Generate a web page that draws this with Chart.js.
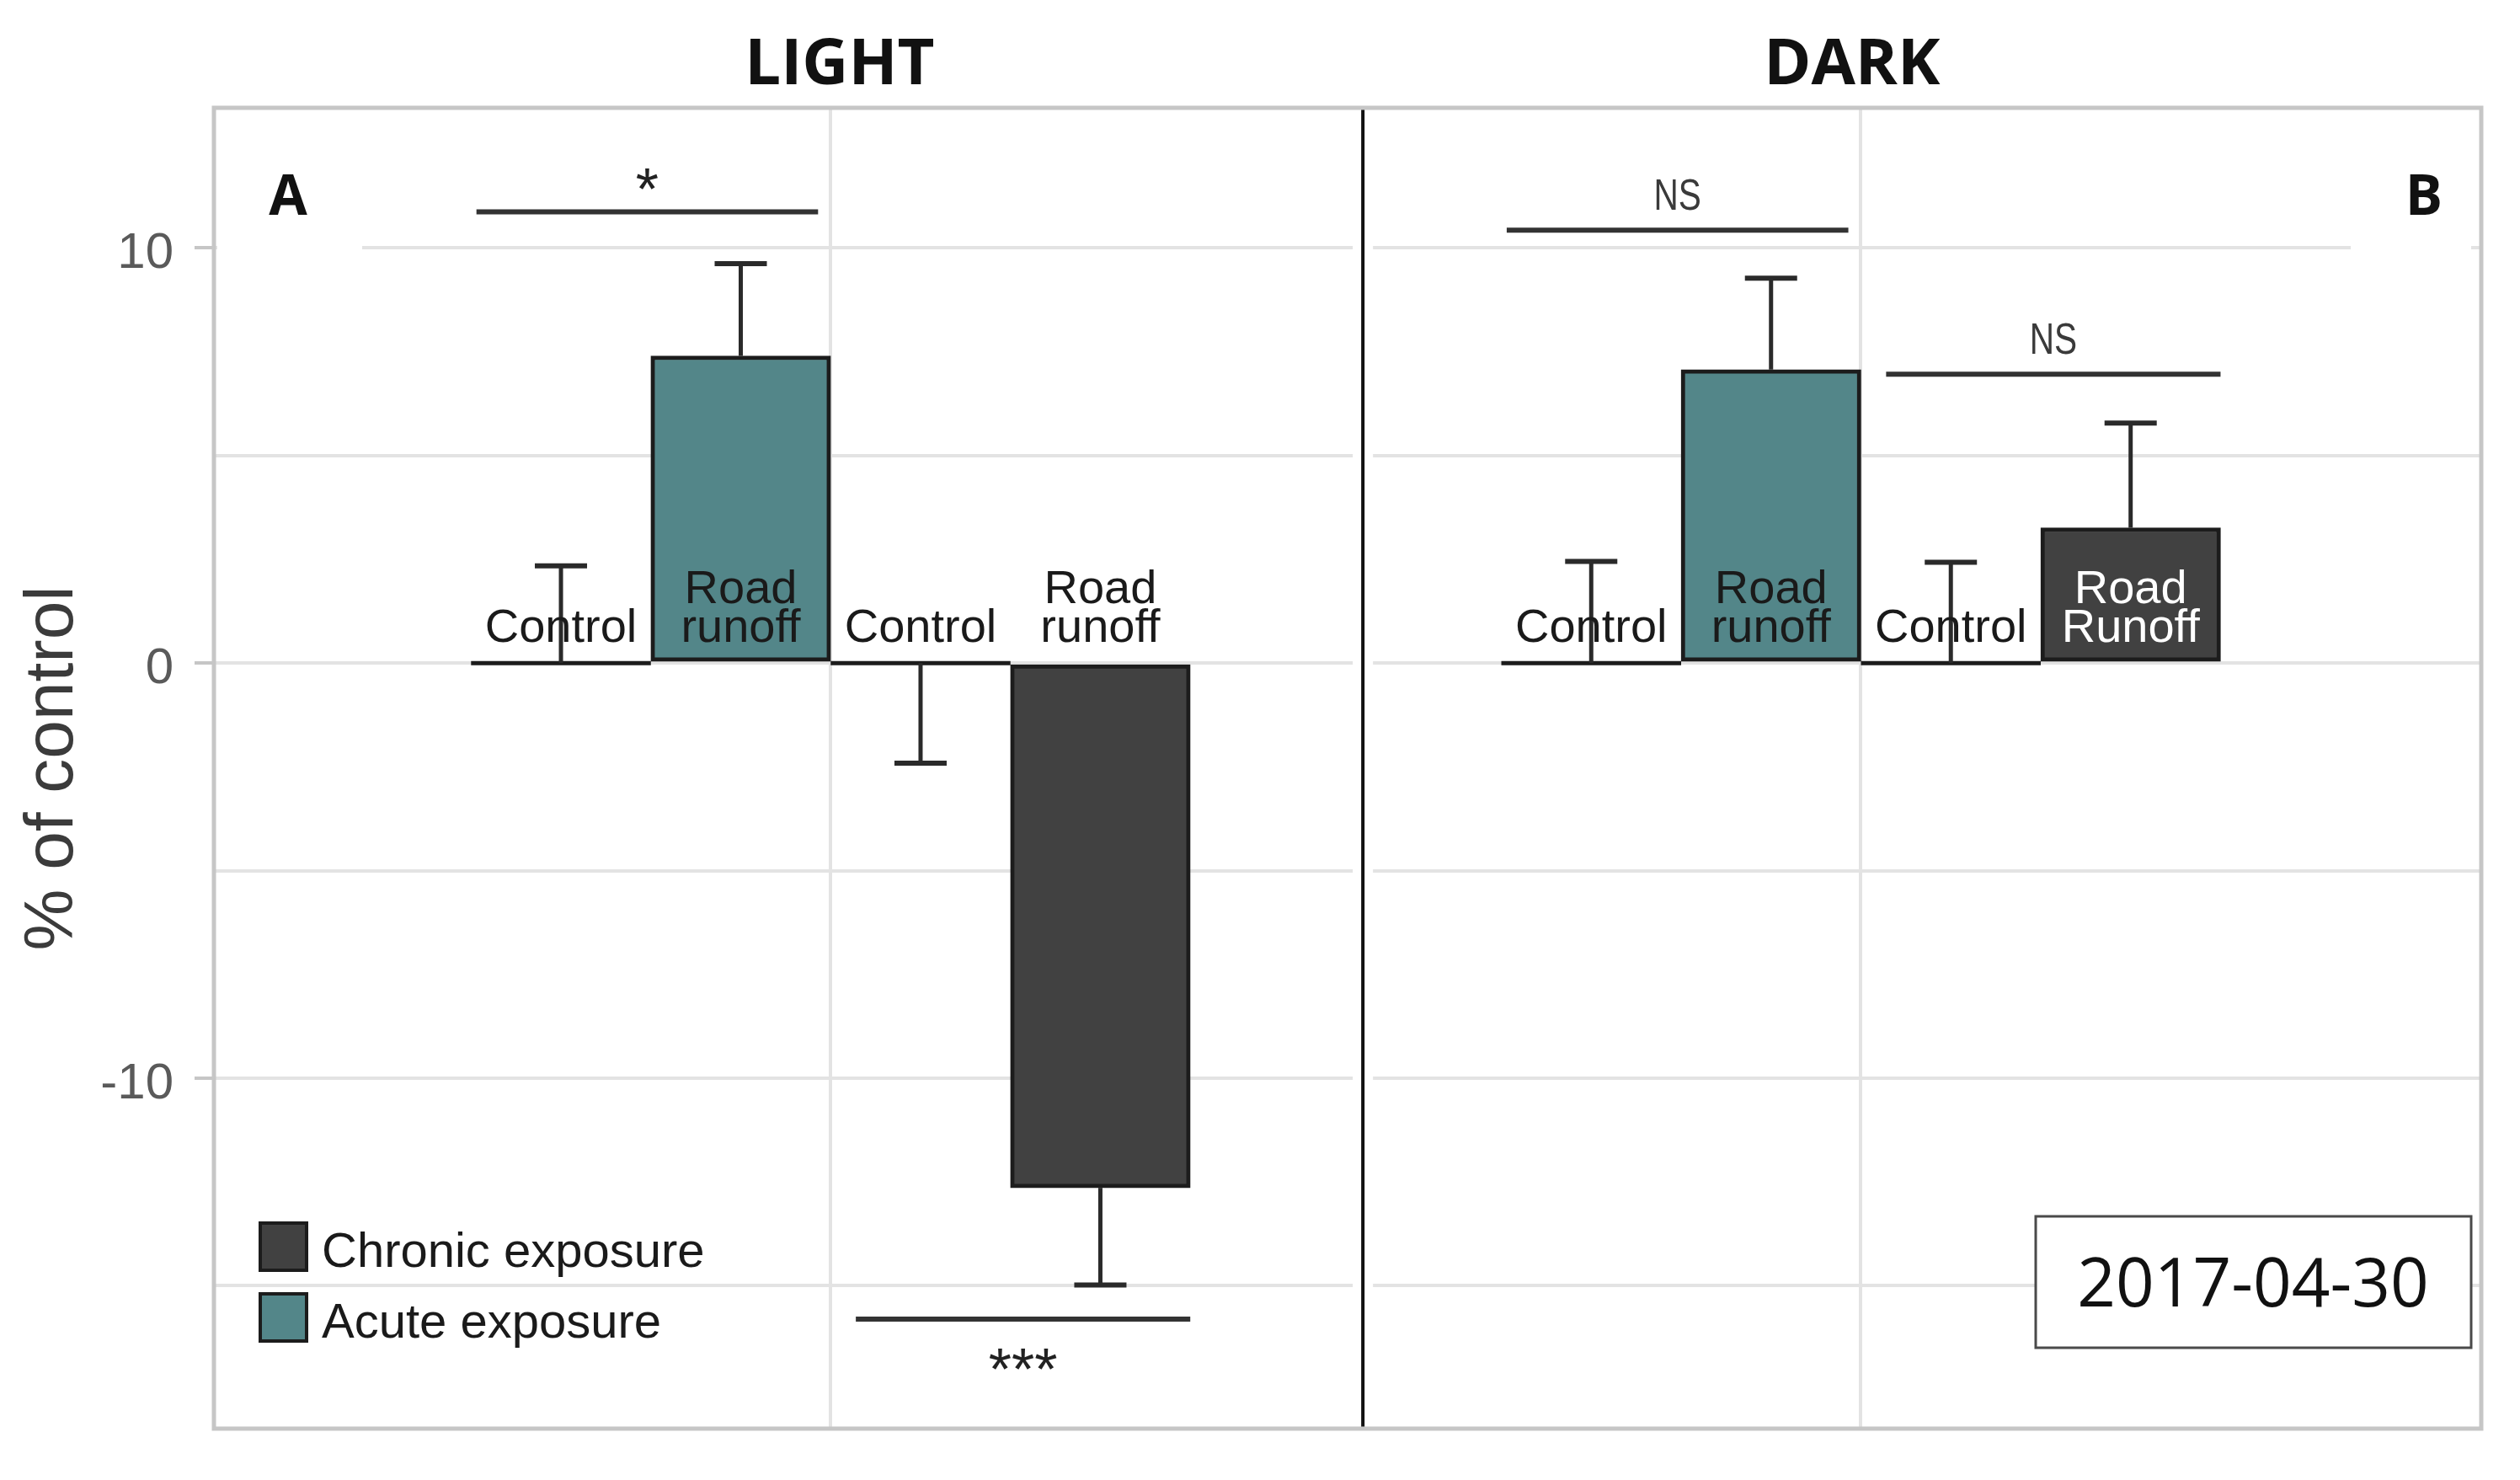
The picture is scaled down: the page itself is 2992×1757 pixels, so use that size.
<!doctype html>
<html lang="en">
<head>
    <title>Road runoff exposure - light / dark</title>
    <meta charset="UTF-8" />
    <style>
        html, body { margin: 0; padding: 0; background: #fff; }
    </style>
</head>
<body>
<canvas id="myChart" width="2992" height="1757"></canvas>
<script src="https://cdn.jsdelivr.net/npm/chart.js"></script>
<script>
    // values, % of control
    const panels = ['LIGHT', 'DARK'];
    const panelTags = ['A', 'B'];
    const seriesNames = ['Chronic exposure', 'Acute exposure'];

    const lightAcute = [0, 7.40];
    const lightAcuteErr = [2.34, 2.22];
    const lightChronic = [0, -12.64];
    const lightChronicErr = [-2.41, -2.34];

    const darkAcute = [0, 7.07];
    const darkAcuteErr = [2.45, 2.20];
    const darkChronic = [0, 3.26];
    const darkChronicErr = [2.43, 2.52];

    const lightLabels = ['Control', 'Road\nrunoff', 'Control', 'Road\nrunoff'];
    const darkLabels = ['Control', 'Road\nrunoff', 'Control', 'Road\nRunoff'];

    const sigMarks = ['*', '***', 'NS', 'NS'];
    const sigLevels = [10.87, -15.8, 10.43, 6.96];

    const yTicks = [-15, -10, -5, 0, 5, 10];
    const dateText = '2017-04-30';

    // layout bits (x unit = one bar slot)
    const PANEL_SHIFT = 5.73;
    const DIVIDER_X = 5.46;
    const TITLE_X = [2.55, 2.45];
    const SIG_SPANS = [[0.53, 2.43], [2.64, 4.5]];
    const TEAL = '#538689', DARK = '#414141', EDGE = '#1c1c1c';
    const GRID = '#e3e3e3', FRAME = '#c6c6c6';

    function slotPoints(vals, panel, firstSlot) {
        return vals.map((v, i) => ({x: 1 + firstSlot + i + panel * PANEL_SHIFT, y: v}));
    }

    const chronicData = slotPoints(lightChronic, 0, 2).concat(slotPoints(darkChronic, 1, 2));
    const acuteData = slotPoints(lightAcute, 0, 0).concat(slotPoints(darkAcute, 1, 0));
    const errs = [lightChronicErr.concat(darkChronicErr), lightAcuteErr.concat(darkAcuteErr)];
    const labels = [
        [lightLabels[2], lightLabels[3], darkLabels[2], darkLabels[3]],
        [lightLabels[0], lightLabels[1], darkLabels[0], darkLabels[1]]
    ];

    function drawText(ctx, str, x, y, font, color, align, sx) {
        ctx.save();
        ctx.font = font;
        ctx.fillStyle = color;
        ctx.textAlign = align || 'center';
        ctx.textBaseline = 'alphabetic';
        ctx.translate(x, y);
        if (sx) ctx.scale(sx, 1);
        ctx.fillText(str, 0, 0);
        ctx.restore();
    }

    function hline(ctx, x1, x2, y, w, color) {
        ctx.beginPath();
        ctx.moveTo(x1, y);
        ctx.lineTo(x2, y);
        ctx.lineWidth = w;
        ctx.strokeStyle = color;
        ctx.stroke();
    }

    const decor = {
        id: 'decor',
        beforeDatasetsDraw(chart) {
            const {ctx, chartArea: a, scales: {x}} = chart;
            ctx.save();
            // white patches behind the panel tags
            ctx.fillStyle = '#fff';
            ctx.fillRect(a.left + 4, 170, 172, 160);
            ctx.fillRect(a.right - 155, 170, 143, 160);
            // facet divider
            const dx = x.getPixelForValue(DIVIDER_X);
            ctx.fillRect(dx - 12, a.top, 24, a.bottom - a.top);
            ctx.beginPath();
            ctx.moveTo(dx, a.top);
            ctx.lineTo(dx, a.bottom);
            ctx.lineWidth = 4;
            ctx.strokeStyle = '#111';
            ctx.stroke();
            // frame
            ctx.lineWidth = 5;
            ctx.strokeStyle = FRAME;
            ctx.strokeRect(a.left, a.top, a.right - a.left, a.bottom - a.top);
            ctx.restore();
        },
        afterDatasetsDraw(chart) {
            const {ctx, chartArea: a, scales: {x, y}} = chart;
            const y0 = y.getPixelForValue(0);
            ctx.save();
            ctx.lineCap = 'butt';

            chart.data.datasets.forEach((ds, d) => {
                const meta = chart.getDatasetMeta(d);
                meta.data.forEach((bar, j) => {
                    const v = ds.data[j].y;
                    const half = bar.width / 2;
                    // zero-height bars show as a baseline
                    if (v === 0) hline(ctx, bar.x - half, bar.x + half, y0, 5, EDGE);
                    // error bar
                    const e = errs[d][j];
                    const py = y.getPixelForValue(v);
                    const pe = y.getPixelForValue(v + e);
                    ctx.beginPath();
                    ctx.moveTo(bar.x, py);
                    ctx.lineTo(bar.x, pe);
                    ctx.lineWidth = 5;
                    ctx.strokeStyle = '#2a2a2a';
                    ctx.stroke();
                    hline(ctx, bar.x - 31, bar.x + 31, pe, 6, '#2a2a2a');
                    // bar caption
                    const lines = labels[d][j].split('\n');
                    const inside = v > 2 && ds.backgroundColor === DARK;
                    const col = inside ? '#ffffff' : '#1a1a1a';
                    lines.forEach((t, k) => {
                        const base = y0 - 25 - (lines.length - 1 - k) * 46;
                        drawText(ctx, t, bar.x, base, '56px "Liberation Sans"', col);
                    });
                });
            });

            // significance brackets
            sigMarks.forEach((m, k) => {
                const p = Math.floor(k / 2), span = SIG_SPANS[k % 2];
                const x1 = x.getPixelForValue(span[0] + p * PANEL_SHIFT);
                const x2 = x.getPixelForValue(span[1] + p * PANEL_SHIFT);
                const ly = y.getPixelForValue(sigLevels[k]);
                hline(ctx, x1, x2, ly, 6, '#333');
                const cx = (x1 + x2) / 2;
                if (m === 'NS') {
                    drawText(ctx, m, cx, ly - 24, '52px "Liberation Sans"', '#3a3a3a', 'center', 0.78);
                } else if (sigLevels[k] > 0) {
                    drawText(ctx, m, cx, ly - 2, '70px "Liberation Sans"', '#222');
                } else {
                    drawText(ctx, m, cx, ly + 84, '70px "Liberation Sans"', '#222');
                }
            });

            // facet titles and tags
            panels.forEach((t, p) => {
                const cx = x.getPixelForValue(TITLE_X[p] + p * PANEL_SHIFT);
                drawText(ctx, t, cx, a.top - 28, 'bold 76px "Open Sans"', '#111');
            });
            drawText(ctx, panelTags[0], a.left + 88, 255, 'bold 66px "Open Sans"', '#111');
            drawText(ctx, panelTags[1], a.right - 68, 255, 'bold 66px "Open Sans"', '#111');

            // legend
            chart.data.datasets.forEach((ds, d) => {
                const bx = a.left + 55, by = a.bottom - 244 + d * 84;
                ctx.fillStyle = ds.backgroundColor;
                ctx.fillRect(bx, by, 55, 56);
                ctx.lineWidth = 4;
                ctx.strokeStyle = EDGE;
                ctx.strokeRect(bx, by, 55, 56);
                drawText(ctx, ds.label, bx + 73, by + 52, '58px "Liberation Sans"', '#1a1a1a', 'left');
            });

            // date box
            const rx = a.right - 529, ry = a.bottom - 252;
            ctx.fillStyle = '#fff';
            ctx.fillRect(rx, ry, 517, 156);
            ctx.lineWidth = 3;
            ctx.strokeStyle = '#4a4a4a';
            ctx.strokeRect(rx, ry, 517, 156);
            drawText(ctx, dateText, rx + 258, ry + 107, '80px "Open Sans"', '#111');
            ctx.restore();
        }
    };

    const ctx = document.getElementById('myChart');
    const chart = new Chart(ctx, {
        type: 'bar',
        data: {
            datasets: [{
                label: seriesNames[0],
                data: chronicData,
                backgroundColor: DARK,
                borderColor: EDGE,
                borderWidth: 5,
                borderSkipped: false,
                grouped: false,
                barPercentage: 1,
                categoryPercentage: 1
            }, {
                label: seriesNames[1],
                data: acuteData,
                backgroundColor: TEAL,
                borderColor: EDGE,
                borderWidth: 5,
                borderSkipped: false,
                grouped: false,
                barPercentage: 1,
                categoryPercentage: 1
            }]
        },
        options: {
            responsive: false,
            animation: false,
            devicePixelRatio: 1,
            layout: {padding: {top: 128, right: 46, bottom: 0, left: 0}},
            plugins: {legend: {display: false}, tooltip: {enabled: false}},
            scales: {
                x: {
                    type: 'linear',
                    min: -0.93,
                    max: 11.68,
                    offset: false,
                    afterBuildTicks: s => { s.ticks = [2.5, 2.5 + PANEL_SHIFT].map(v => ({value: v})); },
                    ticks: {display: false},
                    grid: {color: GRID, lineWidth: 4, drawTicks: false, offset: false},
                    border: {display: false},
                    afterFit: s => { s.height = 47; }
                },
                y: {
                    min: -18.44,
                    max: 13.375,
                    afterBuildTicks: s => { s.ticks = yTicks.map(v => ({value: v})); },
                    ticks: {
                        autoSkip: false,
                        padding: 25,
                        labelOffset: 7,
                        color: '#5a5a5a',
                        font: {family: 'Liberation Sans', size: 60},
                        callback: v => (v % 10 === 0 ? String(v) : '')
                    },
                    grid: {
                        color: GRID,
                        lineWidth: 4,
                        tickLength: 23,
                        tickWidth: 4,
                        tickColor: c => (c.tick && c.tick.value % 10 === 0 ? FRAME : 'rgba(0,0,0,0)')
                    },
                    border: {display: false},
                    title: {
                        display: true,
                        text: '% of control',
                        color: '#3b3b3b',
                        font: {family: 'Liberation Sans', size: 82},
                        padding: {top: 14, bottom: 0}
                    },
                    afterFit: s => { s.width = 254; }
                }
            }
        },
        plugins: [decor]
    });
</script>
</body>
</html>
